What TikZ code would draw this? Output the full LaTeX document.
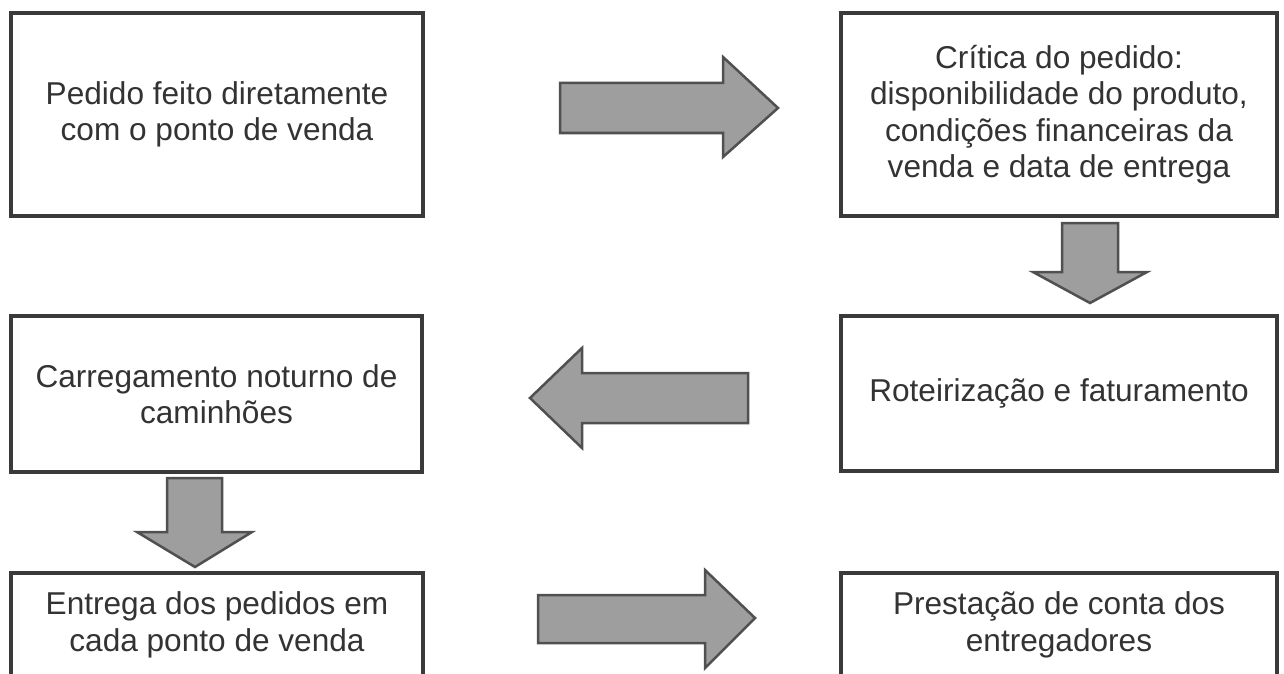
\documentclass[tikz,border=0pt]{standalone}
\usepackage{fontspec}
\setmainfont{Liberation Sans}
\definecolor{boxline}{HTML}{3A3A3A}
\definecolor{txt}{HTML}{333333}
\definecolor{arrfill}{HTML}{9E9E9E}
\definecolor{arrline}{HTML}{505050}
\begin{document}
\begin{tikzpicture}[x=1pt,y=-1pt,
  stage/.style={draw=boxline, line width=4pt, fill=white, text=txt, align=center,
    font=\fontsize{31.6}{36.5}\selectfont, inner sep=0pt},
  blockarrow/.style={draw=arrline, line width=2.5pt, fill=arrfill, line join=miter}]
\useasboundingbox (0,0) rectangle (1284,674);
\clip (0,0) rectangle (1284,674);
\fill[white] (0,0) rectangle (1284,674);

\node[stage, minimum width=412pt, minimum height=203pt] (b1) at (217,114.5)
  {Pedido feito diretamente\\com o ponto de venda};
\node[stage, minimum width=436pt, minimum height=203pt] (b2) at (1059,114.5)
  {Crítica do pedido:\\disponibilidade do produto,\\condições financeiras da\\venda e data de entrega};
\node[stage, minimum width=436pt, minimum height=155pt] (b3) at (1059,393.5)
  {Roteirização e faturamento};
\node[stage, minimum width=411pt, minimum height=156pt] (b4) at (216.5,394)
  {Carregamento noturno de\\caminhões};
\node[stage, minimum width=412pt, minimum height=104pt] (b5) at (217,625)
  {Entrega dos pedidos em\\cada ponto de venda};
\node[stage, minimum width=436pt, minimum height=104pt] (b6) at (1059,625)
  {Prestação de conta dos\\entregadores};

% block arrows
\draw[blockarrow] (560,83) -- (723,83) -- (723,57) -- (778,108) -- (723,157) -- (723,133) -- (560,133) -- cycle;
\draw[blockarrow] (1062,223) -- (1118,223) -- (1118,272) -- (1147,272) -- (1090,303) -- (1033,272) -- (1062,272) -- cycle;
\draw[blockarrow] (748,373) -- (582,373) -- (582,348) -- (530,398) -- (582,448) -- (582,423) -- (748,423) -- cycle;
\draw[blockarrow] (167,478) -- (222,478) -- (222,532) -- (252,532) -- (195,567) -- (137,532) -- (167,532) -- cycle;
\draw[blockarrow] (538,595) -- (705,595) -- (705,570) -- (755,618) -- (705,668) -- (705,643) -- (538,643) -- cycle;
\end{tikzpicture}
\end{document}
